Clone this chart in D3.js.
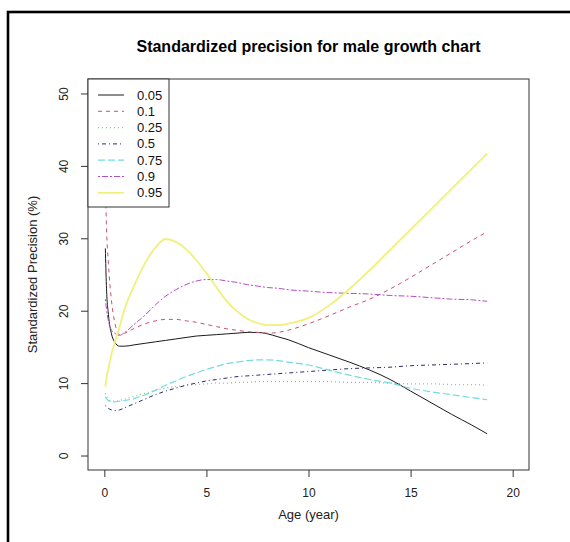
<!DOCTYPE html>
<html>
<head>
<meta charset="utf-8">
<script src="https://cdn.jsdelivr.net/npm/d3@7"></script>
<style>
  body { margin: 0; background: #fff; }
  text { font-family: "Liberation Sans", Arial, sans-serif; }
</style>
</head>
<body>
<div id="chart"></div>
<script>
const ages = [0.05, 0.1, 0.2, 0.35, 0.5, 0.75, 1, 1.5, 2, 2.5, 3, 3.5, 4, 4.5, 5, 5.5, 6, 6.5, 7, 7.5, 8, 8.5, 9, 10, 11, 12, 13, 14, 15, 16, 17, 18, 18.75];

// standardized precision (%) per quantile
const q05 = [28.6, 23.5, 19.5, 16.8, 15.7, 15.1, 15.1, 15.3, 15.5, 15.7, 15.9, 16.1, 16.3, 16.5, 16.6, 16.7, 16.8, 16.9, 17.0, 17.0, 16.8, 16.4, 16.0, 14.9, 13.9, 12.9, 11.8, 10.5, 8.9, 7.3, 5.7, 4.2, 3.0];
const q10 = [38.0, 32.0, 26.5, 21.4, 18.5, 16.7, 16.9, 17.6, 18.2, 18.6, 18.8, 18.8, 18.6, 18.4, 18.1, 17.8, 17.5, 17.3, 17.1, 17.0, 16.9, 17.0, 17.3, 18.2, 19.3, 20.5, 21.6, 23.0, 24.6, 26.3, 28.0, 29.7, 30.9];
const q25 = [8.6, 8.2, 7.8, 7.5, 7.5, 7.6, 7.8, 8.2, 8.6, 9.0, 9.3, 9.5, 9.7, 9.8, 9.9, 10.0, 10.0, 10.1, 10.1, 10.2, 10.2, 10.2, 10.2, 10.2, 10.2, 10.1, 10.1, 10.0, 9.9, 9.9, 9.8, 9.8, 9.7];
const q50 = [6.9, 6.7, 6.5, 6.3, 6.2, 6.3, 6.6, 7.2, 7.8, 8.4, 8.9, 9.3, 9.7, 10.0, 10.3, 10.5, 10.7, 10.9, 11.0, 11.1, 11.2, 11.3, 11.4, 11.6, 11.8, 12.0, 12.1, 12.2, 12.4, 12.5, 12.6, 12.7, 12.8];
const q75 = [8.1, 7.9, 7.6, 7.4, 7.4, 7.5, 7.6, 7.9, 8.4, 9.0, 9.7, 10.3, 10.9, 11.4, 11.9, 12.3, 12.7, 12.9, 13.1, 13.2, 13.2, 13.1, 12.9, 12.5, 11.8, 11.1, 10.5, 10.0, 9.3, 8.8, 8.4, 8.0, 7.7];
const q90 = [21.6, 20.3, 18.6, 17.3, 16.9, 16.6, 17.0, 18.2, 19.4, 20.8, 22.0, 22.9, 23.6, 24.1, 24.3, 24.3, 24.1, 23.9, 23.6, 23.4, 23.2, 23.1, 22.9, 22.7, 22.5, 22.4, 22.3, 22.1, 22.0, 21.8, 21.6, 21.5, 21.3];
const q95 = [9.5, 10.6, 12.0, 14.0, 15.5, 17.8, 20.3, 23.7, 26.6, 28.7, 29.9, 29.5, 28.5, 27.0, 25.2, 23.2, 21.3, 19.9, 18.9, 18.3, 18.0, 18.0, 18.2, 19.0, 20.7, 23.0, 25.6, 28.4, 31.2, 34.0, 36.8, 39.6, 41.7];

const seriesNames = ["0.05", "0.1", "0.25", "0.5", "0.75", "0.9", "0.95"];
const seriesValues = [q05, q10, q25, q50, q75, q90, q95];

const xTicks = [0, 5, 10, 15, 20];
const yTicks = [0, 10, 20, 30, 40, 50];

// R default palette, a bit washed out like the picture
const colors = ["#1a1a1a", "#c8506e", "#86cc86", "#2a2a66", "#6fdde0", "#b24fc4", "#f0f07a"];
const dashes = [null, "4,4", "1,3", "1,3,4,3", "7,3", "2,2,6,2", null];
const widths = [1, 1, 1.3, 1, 1.2, 1, 1.8];

const width = 570, height = 542;
const plot = {left: 88, right: 529, top: 79, bottom: 470};

const svg = d3.select("#chart").append("svg")
    .attr("width", width)
    .attr("height", height);

// outer frame (cut off on the right/bottom)
svg.append("rect")
    .attr("x", 8).attr("y", 12)
    .attr("width", 700).attr("height", 700)
    .attr("fill", "none")
    .attr("stroke", "#000")
    .attr("stroke-width", 2.6);

const xScale = d3.scaleLinear().domain([-0.8, 20.8]).range([plot.left, plot.right]);
const yScale = d3.scaleLinear().domain([-2, 52]).range([plot.bottom, plot.top]);

// title
svg.append("text")
    .attr("x", (plot.left + plot.right) / 2)
    .attr("y", 52)
    .attr("text-anchor", "middle")
    .style("font-size", "16px")
    .style("font-weight", "bold")
    .text("Standardized precision for male growth chart");

// curves
const lineGen = d3.line()
    .x((d) => xScale(d[0]))
    .y((d) => yScale(d[1]))
    .curve(d3.curveMonotoneX);

svg.append("clipPath").attr("id", "plotclip")
    .append("rect")
    .attr("x", plot.left).attr("y", plot.top)
    .attr("width", plot.right - plot.left).attr("height", plot.bottom - plot.top);

const curves = svg.append("g").attr("clip-path", "url(#plotclip)");
seriesValues.forEach((vals, i) => {
    curves.append("path")
        .datum(ages.map((a, j) => [a, vals[j]]))
        .attr("d", lineGen)
        .attr("fill", "none")
        .attr("stroke", colors[i])
        .attr("stroke-width", widths[i])
        .attr("stroke-dasharray", dashes[i]);
});

// x axis (ticks outward)
const xAxis = svg.append("g")
    .attr("transform", `translate(0,${plot.bottom})`)
    .call(d3.axisBottom(xScale).tickValues(xTicks).tickSize(7).tickPadding(11));
xAxis.select(".domain").remove();
xAxis.selectAll("line").attr("stroke", "#333");
xAxis.selectAll("text").style("font-size", "12px").attr("fill", "#222")
    .attr("font-family", "Liberation Sans, Arial, sans-serif");

// y axis with rotated labels like R
const yAxis = svg.append("g")
    .attr("transform", `translate(${plot.left},0)`)
    .call(d3.axisLeft(yScale).tickValues(yTicks).tickSize(7).tickPadding(0));
yAxis.select(".domain").remove();
yAxis.selectAll("line").attr("stroke", "#333");
yAxis.selectAll("text")
    .attr("x", null)
    .attr("text-anchor", "middle")
    .attr("transform", "translate(-24,0) rotate(-90)")
    .attr("dy", "0.35em")
    .style("font-size", "12px").attr("fill", "#222")
    .attr("font-family", "Liberation Sans, Arial, sans-serif");

// plot box
svg.append("rect")
    .attr("x", plot.left).attr("y", plot.top)
    .attr("width", plot.right - plot.left).attr("height", plot.bottom - plot.top)
    .attr("fill", "none")
    .attr("stroke", "#333")
    .attr("stroke-width", 1);

// axis titles
svg.append("text")
    .attr("x", (plot.left + plot.right) / 2)
    .attr("y", 519)
    .attr("text-anchor", "middle")
    .style("font-size", "13px")
    .attr("fill", "#222")
    .text("Age (year)");

svg.append("text")
    .attr("transform", `translate(37,${(plot.top + plot.bottom) / 2}) rotate(-90)`)
    .attr("text-anchor", "middle")
    .style("font-size", "13px")
    .attr("fill", "#222")
    .text("Standardized Precision (%)");

// legend, top-left corner of the plot
const legend = svg.append("g");
legend.append("rect")
    .attr("x", plot.left).attr("y", plot.top)
    .attr("width", 81).attr("height", 128)
    .attr("fill", "#fff")
    .attr("stroke", "#333");

seriesNames.forEach((name, i) => {
    const ly = 95 + i * 16.3;
    legend.append("line")
        .attr("x1", 98).attr("x2", 124)
        .attr("y1", ly).attr("y2", ly)
        .attr("stroke", colors[i])
        .attr("stroke-width", widths[i])
        .attr("stroke-dasharray", dashes[i]);
    legend.append("text")
        .attr("x", 137).attr("y", ly)
        .attr("dy", "0.35em")
        .style("font-size", "13px")
        .attr("fill", "#111")
        .text(name);
});
</script>
</body>
</html>
